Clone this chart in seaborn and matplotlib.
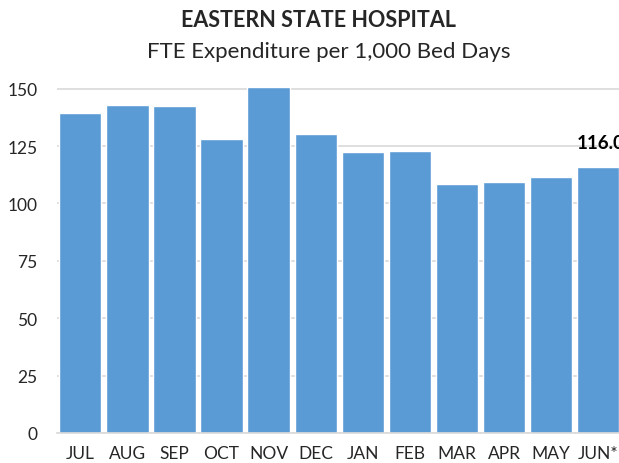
import matplotlib
matplotlib.use("Agg")
import matplotlib.pyplot as plt
import seaborn as sns
import pandas as pd

# Data
months = ["JUL", "AUG", "SEP", "OCT", "NOV", "DEC", "JAN", "FEB", "MAR", "APR", "MAY", "JUN*"]
fte_per_1000 = [139.2, 142.8, 142.5, 128.0, 150.9, 130.3, 122.4, 122.7, 108.4, 109.3, 111.7, 116.0]
yticks = [0, 25, 50, 75, 100, 125, 150]

df = pd.DataFrame({"Month": months, "FTE": fte_per_1000})

sns.set_theme(style="white")
plt.rcParams["font.family"] = ["Lato", "DejaVu Sans"]

fig = plt.figure(figsize=(6.19, 4.64), dpi=100)
ax = fig.add_axes([0.0916, 0.0647, 0.913, 0.752])

sns.barplot(data=df, x="Month", y="FTE", color="#5B9BD5", width=0.9,
            saturation=1, ax=ax, zorder=2)

ax.set_ylim(0, 152)
ax.set_yticks(yticks)
ax.set_yticklabels([str(t) for t in yticks], fontsize=12.5)
ax.tick_params(axis="x", labelsize=12.5, length=0, pad=9)
ax.tick_params(axis="y", length=0, pad=14)
ax.set_xlabel("")
ax.set_ylabel("")
ax.yaxis.grid(True, color="#D9D9D9", linewidth=1.2, zorder=0)
ax.set_axisbelow(True)
for side in ["top", "right", "left"]:
    ax.spines[side].set_visible(False)
ax.spines["bottom"].set_color("#D9D9D9")
ax.spines["bottom"].set_linewidth(1.2)

# label on the last bar
last = len(months) - 1
ax.text(last + 0.05, fte_per_1000[last] + 7, f"{fte_per_1000[last]:.1f}", ha="center",
        va="bottom", fontsize=13.5, fontweight="bold", color="black")

fig.text(0.514, 0.955, "EASTERN STATE HOSPITAL", ha="center", va="center",
         fontsize=15.5, fontweight="bold")
fig.text(0.531, 0.889, "FTE Expenditure per 1,000 Bed Days", ha="center",
         va="center", fontsize=16)

fig.savefig("out.png", dpi=100)
